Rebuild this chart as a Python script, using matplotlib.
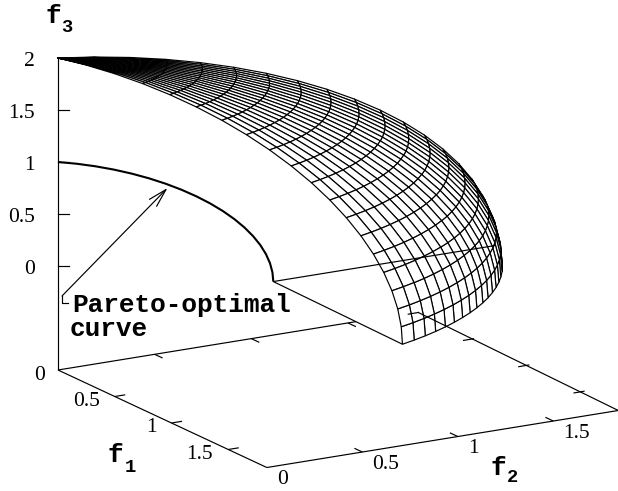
import matplotlib
matplotlib.use("Agg")
import matplotlib.pyplot as plt
import numpy as np
from matplotlib.collections import PolyCollection

# angles of the mesh lines, in degrees
LATITUDES = [0, 4.74, 9.47, 14.21, 18.95, 23.68, 28.42, 33.16, 37.89, 42.63,
             47.37, 52.11, 56.84, 61.58, 66.32, 71.05, 75.79, 80.53, 85.26, 90]
LONGITUDES = [20.1, 22.56, 25.02, 27.48, 29.94, 32.4, 34.86, 37.32, 39.78, 42.24, 44.7,
              47.16, 49.62, 52.08, 54.54, 57.0, 59.46, 61.92, 64.38, 66.84, 69.3]
RADIUS = 2.0
CORNER = 0.707
PARETO_ANGLES = [0, 5, 10, 15, 20, 25, 30, 35, 40, 45, 50, 55, 60, 65, 70, 75, 80, 85, 90]

F1_TICKS = [0.5, 1, 1.5]
F1_LABELS = ["0.5", "1", "1.5"]
F2_TICKS = [0, 0.5, 1, 1.5]
F2_LABELS = ["0", "0.5", "1", "1.5"]
F3_TICKS = [0, 0.5, 1, 1.5, 2]
F3_LABELS = ["0", "0.5", "1", "1.5", "2"]
AXIS_MAX = 1.84
F3_FLOOR = -1.0
SERIF = dict(family="Liberation Serif", fontsize=15.5, va="center")
MONO = dict(family="Liberation Mono", weight="bold", va="center")


def project(f1, f2, f3):
    # oblique view of gnuplot's splot, result in image pixels
    f1, f2, f3 = np.asarray(f1, float), np.asarray(f2, float), np.asarray(f3, float)
    return 58 + 113.5 * f1 + 191 * f2, 266 + 53 * f1 - 31 * f2 - 104 * f3


def depth(f1, f2, f3):
    return 183 * f1 - 108.5 * f2 + 30 * f3


def line3(ax, f1, f2, f3, lw=0.85, z=1):
    x, y = project(f1, f2, f3)
    ax.plot(x, y, color="black", lw=lw, zorder=z, solid_capstyle="butt", solid_joinstyle="miter")


def main():
    fig = plt.figure(figsize=(6.18, 4.91), dpi=100)
    ax = fig.add_axes([0, 0, 1, 1])
    ax.set_xlim(0, 618)
    ax.set_ylim(491, 0)
    ax.axis("off")

    # base frame
    line3(ax, [0, AXIS_MAX], [0, 0], [F3_FLOOR, F3_FLOOR], z=1)
    line3(ax, [AXIS_MAX, AXIS_MAX], [0, AXIS_MAX], [F3_FLOOR, F3_FLOOR], z=1)
    line3(ax, [0, 0], [0, AXIS_MAX], [F3_FLOOR, F3_FLOOR], z=1)
    line3(ax, [0, 0], [0, 0], [F3_FLOOR, 2], z=1)

    for t, s in zip(F1_TICKS, F1_LABELS):
        line3(ax, [t, t], [0, 0.055], [F3_FLOOR, F3_FLOOR])
        x, y = project(t, 0, F3_FLOOR)
        ax.text(x - 15, y + 5, s, ha="right", **SERIF)
    for t, s in zip(F2_TICKS, F2_LABELS):
        x, y = project(AXIS_MAX, t, F3_FLOOR)
        ax.text(x + 10, y + 12, s, ha="left", **SERIF)
        if t > 0:
            line3(ax, [AXIS_MAX, AXIS_MAX - 0.07], [t, t], [F3_FLOOR, F3_FLOOR])
            # the back axis sits a touch further out in the original
            line3(ax, [0, 0.07], [t * 1.012, t * 1.012], [F3_FLOOR, F3_FLOOR])
    for t, s in zip(F3_TICKS, F3_LABELS):
        x, y = project(0, 0, t)
        ax.plot([x, x + 11], [y, y], color="black", lw=0.85, zorder=1)
        ax.text(x - 23, y + 3, s, ha="right", **SERIF)
    x0, y0 = project(0, 0, F3_FLOOR)
    ax.text(x0 - 13, y0 + 5, "0", ha="right", **SERIF)

    # mesh of the outer front, far quads first so nearer ones hide them
    lat = np.radians(LATITUDES)
    lon = np.radians(LONGITUDES)
    f1 = RADIUS * np.outer(np.cos(lat), np.cos(lon))
    f2 = RADIUS * np.outer(np.cos(lat), np.sin(lon))
    f3 = RADIUS * np.outer(np.sin(lat), np.ones_like(lon))
    px, py = project(f1, f2, f3)
    dd = depth(f1, f2, f3)

    # white floor between the Pareto corner and the outer front
    fx = np.concatenate([[CORNER], f1[0]])
    fy = np.concatenate([[CORNER], f2[0]])
    bx, by = project(fx, fy, np.zeros_like(fx))
    ax.fill(bx, by, facecolor="white", edgecolor="none", zorder=2)
    line3(ax, [CORNER, f1[0, 0]], [CORNER, f2[0, 0]], [0, 0], z=2.5)

    quads = []
    order = []
    for i in range(len(lat) - 1):
        for j in range(len(lon) - 1):
            quads.append([(px[i, j], py[i, j]), (px[i + 1, j], py[i + 1, j]),
                          (px[i + 1, j + 1], py[i + 1, j + 1]), (px[i, j + 1], py[i, j + 1])])
            order.append(dd[i:i + 2, j:j + 2].mean())
    quads = [quads[k] for k in np.argsort(order)]
    ax.add_collection(PolyCollection(quads, facecolors="white", edgecolors="black", linewidths=0.85, zorder=3))

    # lines gnuplot left on top of the mesh
    xa, ya = project(AXIS_MAX, AXIS_MAX, F3_FLOOR)
    xs, ys = xa - 200, ya - 98
    ax.plot([xs, xa], [ys, ya], color="black", lw=0.85, zorder=4)
    for t in [0] + F1_TICKS:
        xt, yt = xs + 110.5 * t, ys + 52.5 * t
        ax.plot([xt, xt - 10], [yt, yt + 1.7], color="black", lw=0.85, zorder=4)
    line3(ax, [CORNER, CORNER], [CORNER, f2[0, -1]], [0, 0], z=4)

    # Pareto-optimal curve
    a = np.radians(PARETO_ANGLES)
    line3(ax, CORNER * np.cos(a), CORNER * np.cos(a), np.sin(a), lw=1.5, z=4)

    ax.annotate("", xy=(167.5, 188), xytext=(62, 296), zorder=5,
                arrowprops=dict(arrowstyle="->,head_length=1.33,head_width=0.36", lw=0.85, color="black",
                                shrinkA=0, shrinkB=0))
    ax.plot([62, 62, 68], [296, 303, 303], color="black", lw=0.85, zorder=5)
    ax.text(72, 305, "Pareto-optimal", fontsize=18.8, ha="left", zorder=6, **MONO)
    ax.text(70, 329, "curve", fontsize=18.8, ha="left", zorder=6, **MONO)

    for fx_, fy_, sx, sy, sub in [(53, 16, 67, 27, "3"), (115, 455, 130, 467, "1"), (498, 468, 512, 478, "2")]:
        ax.text(fx_, fy_, "f", fontsize=18.8, ha="center", **MONO)
        ax.text(sx, sy, sub, fontsize=13.5, ha="center", **MONO)

    fig.savefig("out.png", dpi=100)


if __name__ == "__main__":
    main()
